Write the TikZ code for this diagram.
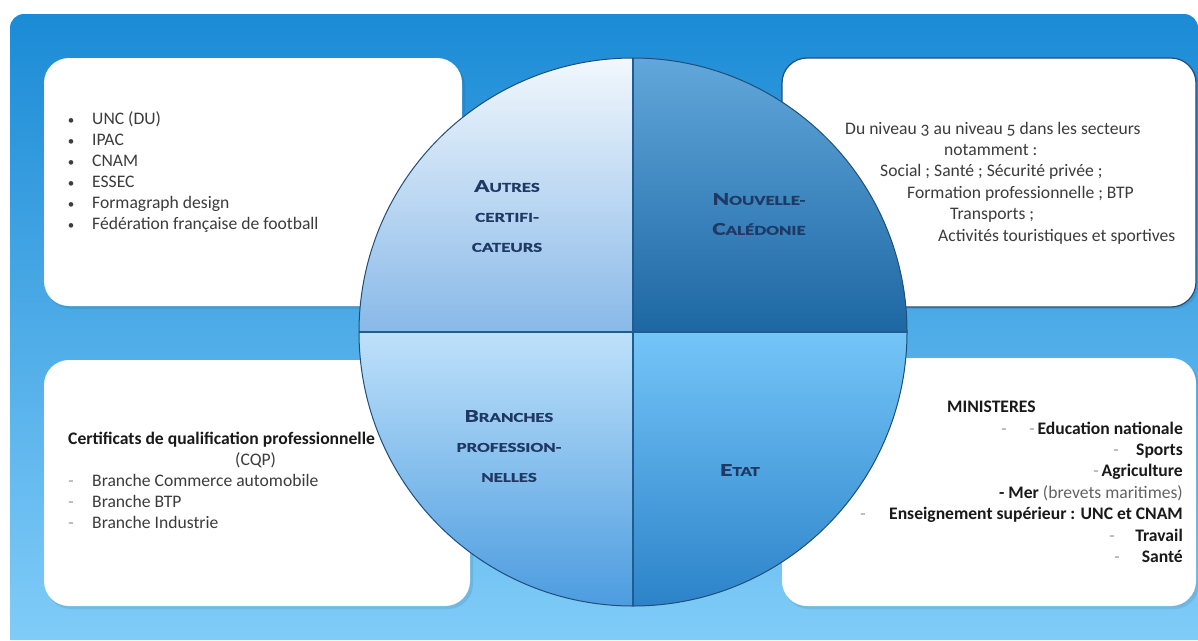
\documentclass[tikz,border=0pt]{standalone}
\usepackage{fontspec}
\setmainfont{Carlito}
\definecolor{panelTop}{HTML}{1B8BD6}
\definecolor{panelBot}{HTML}{80CCF8}
\definecolor{navy}{HTML}{1F3864}
\definecolor{rim}{HTML}{1F4E79}
\definecolor{divline}{HTML}{1F5C8F}
\definecolor{bodytxt}{HTML}{3C3C3C}
\definecolor{dashgray}{HTML}{9A9A9A}
\definecolor{qAt}{HTML}{F3F8FD}
\definecolor{qAb}{HTML}{88B9E8}
\definecolor{qBt}{HTML}{62A8DC}
\definecolor{qBb}{HTML}{1D67A3}
\definecolor{qCt}{HTML}{BFE1FA}
\definecolor{qCb}{HTML}{4A9BDF}
\definecolor{qDt}{HTML}{74C5F8}
\definecolor{qDb}{HTML}{2B82C8}
\newfontfamily\labfont[FakeStretch=1.4, BoldFeatures={FakeBold=0.6}]{Carlito}
\begin{document}
\begin{tikzpicture}[x=1pt,y=-1pt,
  box/.style={fill=white, rounded corners=25pt},
  boxshadow/.style={fill=black, opacity=0.08, rounded corners=25pt},
  txt/.style={inner sep=0pt, text height=12pt, text depth=3pt, anchor=west, font=\fontsize{17.6}{21}\selectfont, text=bodytxt},
  btxt/.style={txt, font=\fontsize{17.6}{21}\selectfont\bfseries, text=black!90},
  rtxt/.style={btxt, anchor=east},
  dsh/.style={inner sep=0pt, text height=12pt, text depth=3pt, font=\fontsize{17.6}{21}\selectfont, text=dashgray},
  lab/.style={align=center, text=navy, inner sep=0pt, font=\labfont\bfseries\fontsize{13.5}{30}\selectfont}
]
\useasboundingbox (0,0) rectangle (1198,640);
\fill[white] (0,0) rectangle (1198,640);
% background panel
\shade[top color=panelTop, bottom color=panelBot]
  (10,640) [rounded corners=14pt] -- (10,14) -- (1198,14) [sharp corners] -- (1198,640) -- cycle;

% boxes (shadows then boxes)
\fill[boxshadow] (46,61) rectangle (465,309);
\fill[boxshadow] (46,363) rectangle (473,609);
\fill[boxshadow] (784,61) rectangle (1199,309);
\fill[boxshadow] (784,361) rectangle (1199,609);
\path[box] (44,58) rectangle (462,306);
\path[box] (44,360) rectangle (470,606);
\path[box, draw=rim, line width=1.2pt] (782,58) rectangle (1196,307);
\path[box] (782,358) rectangle (1196,606);

% top-left list
\foreach \i/\t in {0/UNC (DU),1/IPAC,2/CNAM,3/ESSEC,4/Formagraph design,5/Fédération française de football}{
  \node[dsh, text=bodytxt, font=\fontsize{13}{21}\selectfont] (tlb\i) at (71,120+21*\i) {•};
  \node[txt] (tl\i) at (92,120+21*\i) {\t};
}

% top-right text
\node[txt] (tr1) at (845,130) {\addfontfeature{Numbers=OldStyle}Du niveau 3 au niveau 5 dans les secteurs};
\node[txt] (tr2) at (944,151) {notamment :};
\node[txt] (tr3) at (880,172) {Social ; Santé ; Sécurité privée ;};
\node[txt] (tr4) at (907,194) {Formation professionnelle ; BTP};
\node[txt] (tr5) at (950,215) {Transports ;};
\node[txt] (tr6) at (938,237) {Activités touristiques et sportives};

% bottom-left text
\node[btxt] (bl0) at (68,440) {Certificats de qualification professionnelle};
\node[txt] (bl1) at (235,461) {(CQP)};
\foreach \i/\t in {0/Branche Commerce automobile,1/Branche BTP,2/Branche Industrie}{
  \node[dsh] (bld\i) at (71,482+21*\i) {-};
  \node[txt] (blt\i) at (92,482+21*\i) {\t};
}

% bottom-right text
\node[btxt] (br0) at (947,408) {MINISTERES};
\node[dsh] (brd1a) at (1004,430) {-};
\node[rtxt] (br1) at (1183,430) {{\mdseries\color{dashgray}-}\,Education nationale};
\node[dsh] (brd2) at (1116,451) {-};
\node[rtxt] (br2) at (1183,451) {Sports};
\node[rtxt] (br3) at (1183,472) {{\mdseries\color{dashgray}-}\,Agriculture};
\node[rtxt] (br4) at (1183,494) {- Mer {\mdseries\color{bodytxt!80}(brevets maritimes)}};
\node[dsh] (brd5) at (863,515) {-};
\node[rtxt] (br5) at (1183,515) {Enseignement supérieur : UNC et CNAM};
\node[dsh] (brd6) at (1112,537) {-};
\node[rtxt] (br6) at (1183,537) {Travail};
\node[dsh] (brd7) at (1117,558) {-};
\node[rtxt] (br7) at (1183,558) {Santé};

% circle
\coordinate (c) at (633,332);
\begin{scope}
  \clip (c) circle (274pt);
  \shade[top color=qAt, bottom color=qAb] (355,55) rectangle (633,332);
  \shade[top color=qBt, bottom color=qBb] (633,55) rectangle (911,332);
  \shade[top color=qCt, bottom color=qCb] (355,332) rectangle (633,610);
  \shade[top color=qDt, bottom color=qDb] (633,332) rectangle (911,610);
\end{scope}
\coordinate (ctop) at (633,58);
\coordinate (cbot) at (633,606);
\coordinate (cleft) at (359,332);
\coordinate (cright) at (907,332);
\draw[divline, line width=2.2pt] (ctop) -- (cbot);
\draw[divline, line width=2.2pt] (cleft) -- (cright);
\draw[rim, line width=1pt] (c) circle (274pt);

% quadrant labels
\node[lab] (q1) at (507,216) {{\fontsize{18}{30}\selectfont A}UTRES\\CERTIFI-\\CATEURS};
\node[lab] (q2) at (759,214) {{\fontsize{18}{30}\selectfont N}OUVELLE-\\{\fontsize{18}{30}\selectfont C}ALÉDONIE};
\node[lab] (q3) at (509,446) {{\fontsize{18}{30}\selectfont B}RANCHES\\PROFESSION-\\NELLES};
\node[lab] (q4) at (740,470) {{\fontsize{18}{30}\selectfont E}TAT};
\end{tikzpicture}
\end{document}
